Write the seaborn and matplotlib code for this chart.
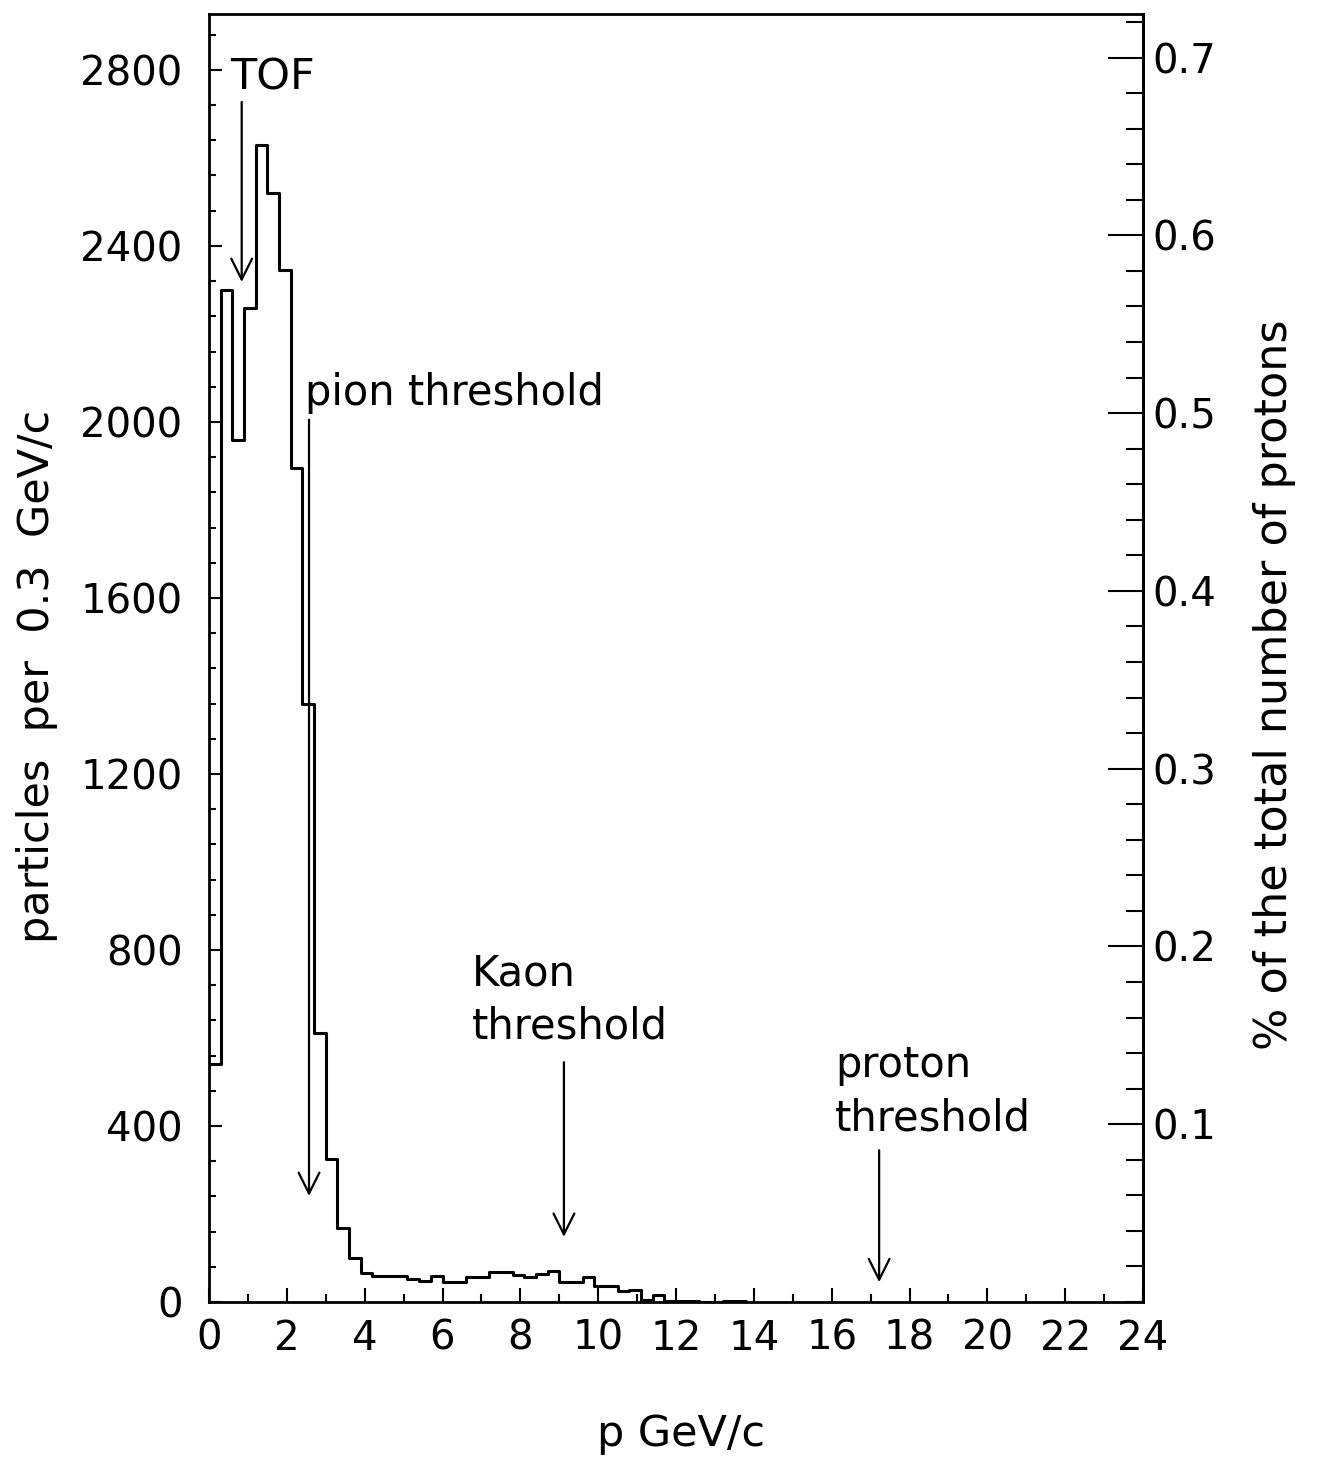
import numpy as np
import seaborn as sns
import matplotlib
matplotlib.use("Agg")
from matplotlib import pyplot as plt
from matplotlib.ticker import MultipleLocator, FixedLocator, FormatStrFormatter

# momentum bins (lower edges, GeV/c), 0.3 GeV/c wide
bin_left = [0.0, 0.3, 0.6, 0.9, 1.2, 1.5, 1.8, 2.1, 2.4, 2.7,
            3.0, 3.3, 3.6, 3.9, 4.2, 4.5, 4.8, 5.1, 5.4, 5.7,
            6.0, 6.3, 6.6, 6.9, 7.2, 7.5, 7.8, 8.1, 8.4, 8.7,
            9.0, 9.3, 9.6, 9.9, 10.2, 10.5, 10.8, 11.1, 11.4, 11.7,
            12.0, 12.3, 12.6, 12.9, 13.2, 13.5]
bin_width = 0.3
# particles per bin
counts = [540, 2300, 1960, 2260, 2630, 2520, 2345, 1895, 1360, 612,
          325, 168, 101, 65, 60, 59, 58, 53, 47, 59,
          46, 46, 57, 57, 69, 69, 62, 57, 63, 70,
          46, 46, 57, 36, 36, 24, 27, 5, 17, 3,
          3, 2, 1, 1, 3, 2]

# counts -> % of total protons on the right axis
pct_scale = 4040.0
pct_ticks = [0.1, 0.2, 0.3, 0.4, 0.5, 0.6, 0.7]

# annotation arrows: label, text pos, arrow start, arrow tip, font size
notes = [
    ("TOF", (0.55, 2755), (0.84, 2727), (0.84, 2318), 31),
    ("pion threshold", (2.47, 2039), (2.57, 2005), (2.57, 241), 30),
    ("Kaon\nthreshold", (6.76, 686), (9.12, 545), (9.12, 148), 30),
    ("proton\nthreshold", (16.09, 477), (17.22, 345), (17.22, 45), 30),
]

sns.set_style("ticks")
plt.rcParams['font.family'] = ['DejaVu Sans']
plt.rcParams['xtick.direction'] = 'in'
plt.rcParams['ytick.direction'] = 'in'
for k in ['text.color', 'axes.labelcolor', 'xtick.color', 'ytick.color', 'axes.edgecolor']:
    plt.rcParams[k] = 'black'

fig = plt.figure(figsize=(13.18, 14.65), dpi=100)
ax = fig.add_axes([209 / 1318, 163 / 1465, 934 / 1318, 1288 / 1465])

edges = bin_left + [bin_left[-1] + bin_width]
centers = [b + bin_width / 2 for b in bin_left]
sns.histplot(x=centers, weights=counts, bins=edges, element="step",
             fill=False, color="black", linewidth=2.2, ax=ax)

ax.set_xlim(0, 24)
ax.set_ylim(0, 2927)
for s in ax.spines.values():
    s.set_linewidth(2.0)
    s.set_color("black")
    s.set_visible(True)

ax.xaxis.set_major_locator(MultipleLocator(2))
ax.xaxis.set_minor_locator(MultipleLocator(1))
ax.yaxis.set_major_locator(MultipleLocator(400))
ax.yaxis.set_minor_locator(MultipleLocator(80))
ax.tick_params(axis='x', which='major', length=10, width=1.5, labelsize=29, pad=12)
ax.tick_params(axis='x', which='minor', length=6, width=1.5)
ax.tick_params(axis='y', which='major', length=9, width=1.5, labelsize=29, pad=19)
ax.tick_params(axis='y', which='minor', length=5, width=1.5)

ax.set_xlabel("p GeV/c", fontsize=31)
ax.xaxis.set_label_coords(0.505, -0.086)
ax.set_ylabel("particles  per  0.3  GeV/c", fontsize=31)
ax.yaxis.set_label_coords(-0.162, 0.486)

sec = ax.secondary_yaxis('right', functions=(lambda y: y / pct_scale,
                                             lambda p: p * pct_scale))
sec.yaxis.set_major_locator(FixedLocator(pct_ticks))
sec.yaxis.set_minor_locator(MultipleLocator(0.02))
sec.yaxis.set_major_formatter(FormatStrFormatter('%.1f'))
sec.tick_params(which='major', direction='in', length=25, width=1.5,
                labelsize=29, pad=7, colors='black')
sec.tick_params(which='minor', direction='in', length=12, width=1.5, colors='black')
sec.spines['right'].set_linewidth(2.0)
sec.spines['right'].set_color('black')
fig.text(1275 / 1318, 1 - 685 / 1465, "% of the total number of protons",
         fontsize=32, rotation=90, ha='center', va='center')

for label, txt, start, tip, fs in notes:
    ax.text(txt[0], txt[1], label, fontsize=fs, ha='left',
            va='baseline' if '\n' not in label else 'center',
            linespacing=1.35)
    ax.annotate("", xy=tip, xytext=start,
                arrowprops=dict(arrowstyle="->,head_length=0.5,head_width=0.25",
                                color="black", lw=1.6, mutation_scale=30,
                                shrinkA=0, shrinkB=0))

fig.savefig("out.png", dpi=100)
